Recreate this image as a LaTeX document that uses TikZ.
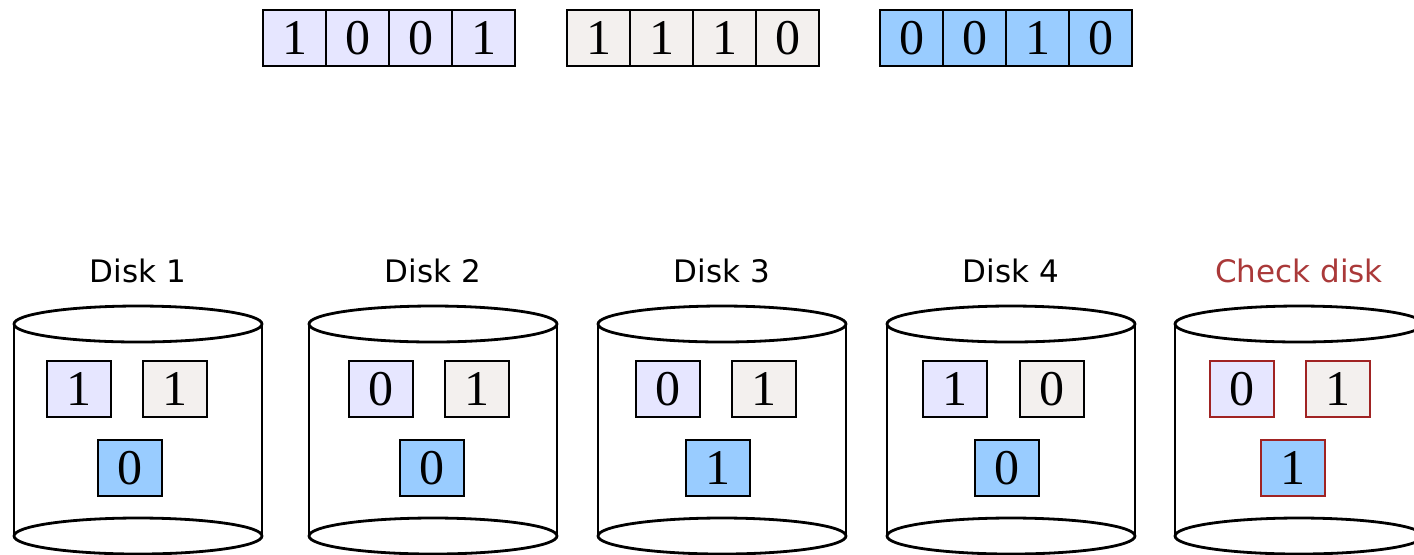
\documentclass[tikz,border=0pt]{standalone}
\usepackage{fontspec}
\setmainfont{Liberation Serif}
\newfontfamily\labelfont{DejaVu Sans}
\usetikzlibrary{positioning}
\definecolor{stripeA}{RGB}{230,230,255}
\definecolor{stripeB}{RGB}{243,240,238}
\definecolor{stripeC}{RGB}{153,204,255}
\definecolor{parity}{RGB}{160,35,35}

\tikzset{
  bit/.style={draw, line width=1.1pt, minimum width=31.5pt, minimum height=28pt,
    inner sep=0pt, font=\fontsize{25}{28}\selectfont},
  blockbit/.style={bit, minimum width=32pt},
  disklabel/.style={font=\labelfont\fontsize{15.5}{18}\selectfont},
  drum/.style={line width=1.4pt},
}

\begin{document}
\begin{tikzpicture}[x=0.5pt, y={(0,-0.5pt)}]
  \useasboundingbox (0,0) rectangle (1414,554);

  % the three data stripes
  \foreach \s/\x/\col/\bits in {sa/263/stripeA/{1,0,0,1}, sb/567/stripeB/{1,1,1,0}, sc/880/stripeC/{0,0,1,0}}
    \foreach \b [count=\i] in \bits
      \node[bit, fill=\col] (\s\i) at ({\x+63*\i-31.5},38) {\b};

  % disks
  \foreach \d/\cx in {1/138,2/433,3/722,4/1011,5/1299} {
    \draw[drum] ({\cx-124},324) -- ({\cx-124},536) ({\cx+124},324) -- ({\cx+124},536);
    \draw[drum, fill=white] (\cx,324) ellipse [x radius=62pt, y radius=9pt];
    \draw[drum, fill=white] (\cx,536) ellipse [x radius=62pt, y radius=9pt];
  }
  \foreach \d/\cx in {1/138,2/433,3/722,4/1011}
    \node[disklabel] (lbl\d) at (\cx,271) {Disk \d};
  \node[disklabel, text=parity!90] (lbl5) at (1299,271) {Check disk};

  % blocks held by each disk
  \foreach \d/\xa/\xb/\xc/\ba/\bb/\bc in {1/79/175/130/1/1/0, 2/381/477/432/0/1/0,
      3/668/764/718/0/1/1, 4/955/1052/1007/1/0/0} {
    \node[blockbit, fill=stripeA] (d\d a) at (\xa,389) {\ba};
    \node[blockbit, fill=stripeB] (d\d b) at (\xb,389) {\bb};
    \node[blockbit, fill=stripeC] (d\d c) at (\xc,468) {\bc};
  }
  \node[blockbit, draw=parity, fill=stripeA] (d5a) at (1242,389) {0};
  \node[blockbit, draw=parity, fill=stripeB] (d5b) at (1338,389) {1};
  \node[blockbit, draw=parity, fill=stripeC] (d5c) at (1293,468) {1};
\end{tikzpicture}
\end{document}
